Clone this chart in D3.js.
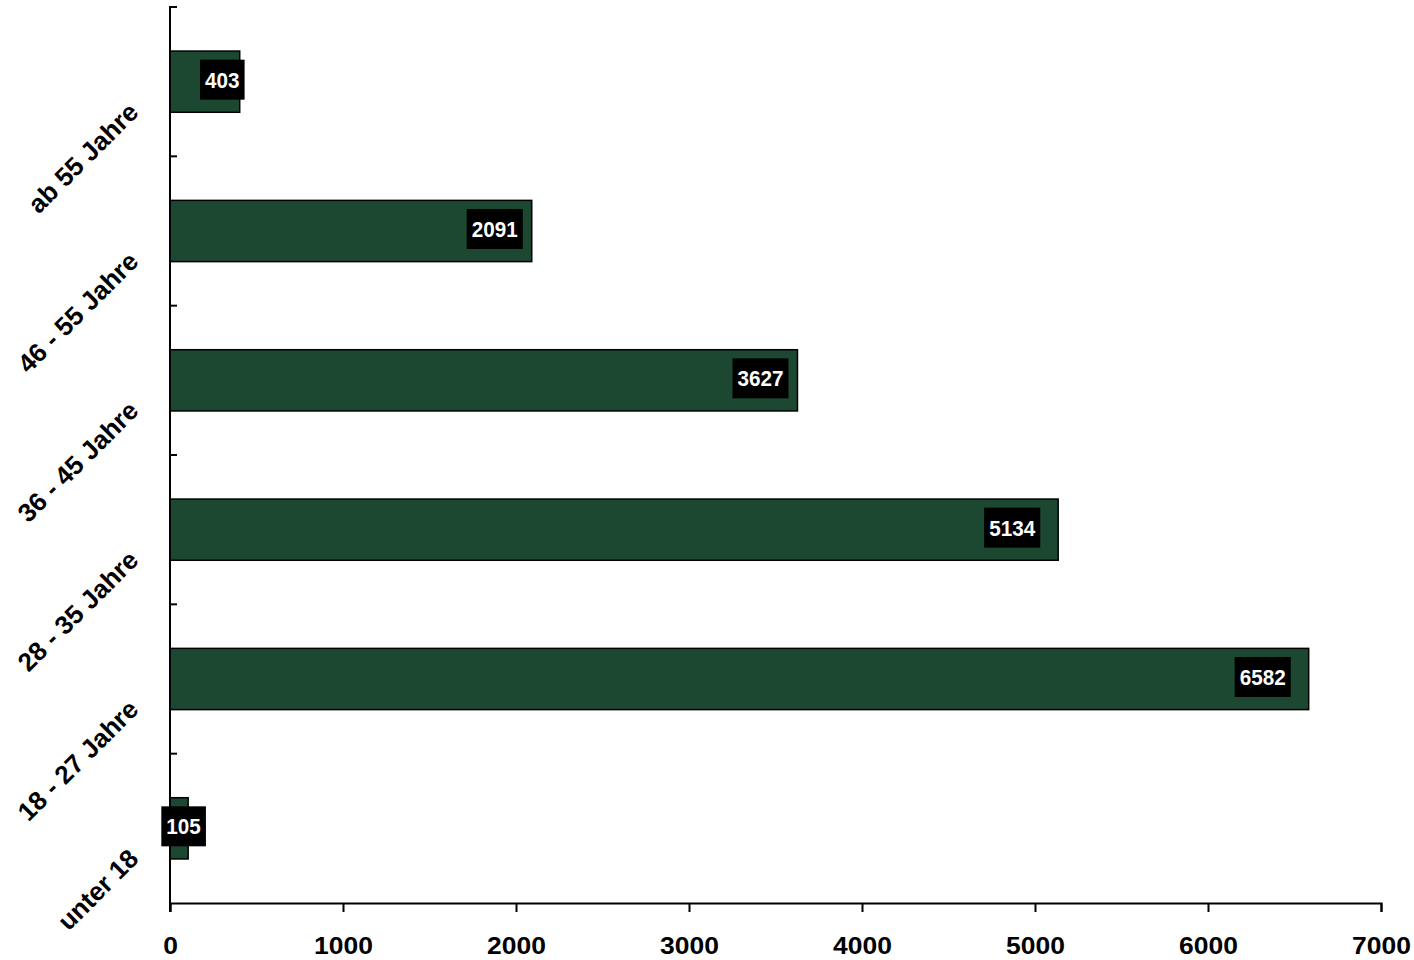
<!DOCTYPE html>
<html>
<head>
<script src="https://cdn.jsdelivr.net/npm/d3@7"></script>
<style>
  body { margin: 0; background: #fff; }
  text { font-family: "Liberation Sans", Arial, sans-serif; font-weight: bold; }
</style>
</head>
<body>
<script>
var width = 1414, height = 960;

// data, bottom to top as in the chart
var categories = ["unter 18", "18 - 27 Jahre", "28 - 35 Jahre", "36 - 45 Jahre", "46 - 55 Jahre", "ab 55 Jahre"];
var values = [105, 6582, 5134, 3627, 2091, 403];
var xTicks = [0, 1000, 2000, 3000, 4000, 5000, 6000, 7000];

var data = categories.map(function(c, i) { return {cat: c, value: values[i]}; });

var svg = d3.select("body").append("svg")
    .attr("width", width)
    .attr("height", height);

var x = d3.scaleLinear().domain([0, 7000]).range([170, 1381]);
var y = d3.scaleBand()
    .domain(categories.slice().reverse())
    .range([7, 903])
    .paddingInner(0.59)
    .paddingOuter(0.295);

// bars
svg.selectAll(".bar")
  .data(data)
  .enter().append("rect")
    .attr("class", "bar")
    .attr("x", x(0))
    .attr("y", function(d) { return y(d.cat); })
    .attr("width", function(d) { return x(d.value) - x(0); })
    .attr("height", y.bandwidth())
    .attr("fill", "#1c4831")
    .attr("stroke", "#000")
    .attr("stroke-width", 1.5);

// y axis line + ticks at band edges (pointing inward)
var step = y.step();
svg.append("line")
    .attr("x1", x(0)).attr("x2", x(0))
    .attr("y1", 6).attr("y2", 912)
    .attr("stroke", "#000").attr("stroke-width", 2);
d3.range(categories.length).forEach(function(i) {
  var yy = 7 + i * step;
  svg.append("line")
      .attr("x1", x(0)).attr("x2", x(0) + 7)
      .attr("y1", yy).attr("y2", yy)
      .attr("stroke", "#000").attr("stroke-width", 2);
});

// x axis
var xAxis = svg.append("g")
    .attr("transform", "translate(0,903)")
    .call(d3.axisBottom(x).tickValues(xTicks).tickSize(9).tickPadding(10).tickFormat(d3.format("d")));
xAxis.select(".domain").attr("stroke-width", 2);
xAxis.selectAll(".tick line").attr("stroke-width", 2);
xAxis.selectAll(".tick text")
    .attr("font-size", 23)
    .attr("fill", "#000")
    .attr("font-family", "Liberation Sans, Arial, sans-serif")
    .attr("font-weight", "bold")
    .attr("dy", null)
    .attr("y", 0)
    .attr("transform", "translate(0,51) scale(1.15,1)");

// category labels, rotated
svg.selectAll(".cat")
  .data(data)
  .enter().append("text")
    .attr("class", "cat")
    .attr("text-anchor", "end")
    .attr("font-size", 26)
    .attr("fill", "#000")
    .attr("transform", function(d) {
      return "translate(140," + (y(d.cat) + y.bandwidth() / 2 + 32) + ") rotate(-45)";
    })
    .text(function(d) { return d.cat; });

// data labels: black boxes with white text
var lbl = svg.selectAll(".lbl")
  .data(data)
  .enter().append("g")
    .attr("class", "lbl")
    .attr("transform", function(d) {
      var end = x(d.value), w = end - x(0);
      var cx = end - Math.min(w > 800 ? 46 : 37, w * 0.25);
      return "translate(" + cx + "," + (y(d.cat) + y.bandwidth() / 2 - 2) + ")";
    });
lbl.append("text")
    .attr("text-anchor", "middle")
    .attr("dy", "0.36em")
    .attr("font-size", 22)
    .attr("fill", "#fff")
    .attr("transform", "scale(0.94,1)")
    .text(function(d) { return d.value; });
lbl.each(function() {
  var g = d3.select(this);
  var bb = g.select("text").node().getBBox();
  var w = bb.width * 0.94;
  g.insert("rect", "text")
      .attr("x", -w / 2 - 5)
      .attr("y", -20)
      .attr("width", w + 10)
      .attr("height", 40)
      .attr("fill", "#000");
});
</script>
</body>
</html>
